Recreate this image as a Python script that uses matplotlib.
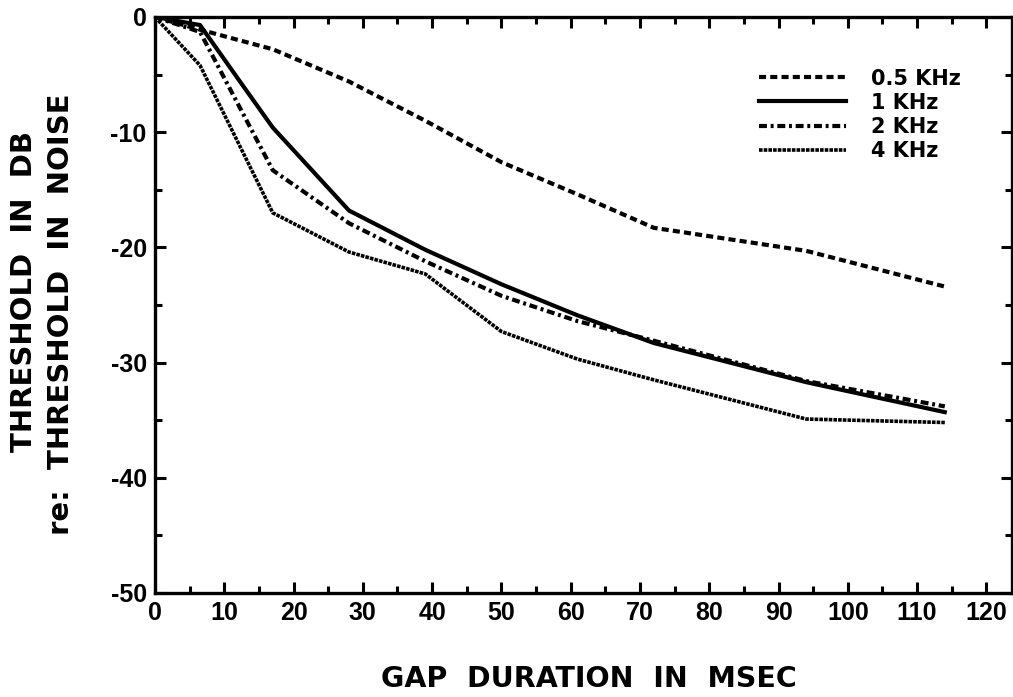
import matplotlib
matplotlib.use("Agg")
import matplotlib.pyplot as plt
from matplotlib.ticker import MultipleLocator

plt.rcParams["axes.unicode_minus"] = False

# gap durations (ms) and thresholds (dB re: threshold in noise)
gap_ms = [0, 6.5, 17, 28, 39, 50, 61, 72, 94, 114]
gap_ms_1k = [0, 6.5, 12.5, 17, 28, 39, 50, 61, 72, 94, 114]

thr_500 = [0, -1.1, -2.8, -5.6, -9.0, -12.6, -15.4, -18.3, -20.3, -23.4]
thr_1k = [0, -0.7, -5.8, -9.6, -16.8, -20.2, -23.2, -25.9, -28.3, -31.7, -34.3]
thr_2k = [0, -1.3, -13.3, -17.9, -21.2, -24.2, -26.4, -28.1, -31.6, -33.8]
thr_4k = [0, -4.2, -17.0, -20.4, -22.3, -27.3, -29.7, -31.5, -34.9, -35.2]

labels = ["0.5 KHz", "1 KHz", "2 KHz", "4 KHz"]

W, H = 1013, 697
fig = plt.figure(figsize=(W / 100, H / 100), dpi=100)
ax = fig.add_axes([155 / W, 1 - 593 / H, (1012 - 155) / W, (593 - 17) / H])

ax.plot(gap_ms, thr_500, color="black", lw=3.0, linestyle=(0, (1.7, 1.0)), label=labels[0])
ax.plot(gap_ms_1k, thr_1k, color="black", lw=3.0, linestyle="-", label=labels[1])
ax.plot(gap_ms, thr_2k, color="black", lw=3.0, linestyle=(0, (1.9, 0.9, 0.7, 0.9)), label=labels[2])
ax.plot(gap_ms, thr_4k, color="black", lw=2.6, linestyle=(0, (1.0, 0.3)), label=labels[3])

ax.set_xlim(0, 123.7)
ax.set_ylim(-50, 0)

ax.xaxis.set_major_locator(MultipleLocator(10))
ax.xaxis.set_minor_locator(MultipleLocator(5))
ax.yaxis.set_major_locator(MultipleLocator(10))
ax.yaxis.set_minor_locator(MultipleLocator(5))

for s in ax.spines.values():
    s.set_linewidth(2.4)

ax.tick_params(which="major", direction="in", length=8, width=2.2,
               top=True, right=True, pad=6)
ax.tick_params(which="minor", direction="in", length=5, width=2.2,
               top=True, right=True)

tick_font = matplotlib.font_manager.FontProperties(family="Liberation Sans", weight="bold", size=18)
for lab in ax.get_xticklabels() + ax.get_yticklabels():
    lab.set_fontproperties(tick_font)

leg = ax.legend(loc="upper left", bbox_to_anchor=(0.695, 0.925), frameon=False,
                handlelength=4.2, handletextpad=1.2, labelspacing=0.2,
                borderaxespad=0, prop=dict(family="DejaVu Sans", weight="bold", size=15))

# two-line y label, each line placed on its own
ylab = dict(rotation=90, ha="center", va="center", family="DejaVu Sans",
            weight="bold", size=21)
fig.text(24 / W, 1 - 292 / H, "THRESHOLD  IN  DB", **ylab)
fig.text(61 / W, 1 - 314 / H, "re:  THRESHOLD  IN  NOISE", **ylab)

fig.text(589 / W, 1 - 679 / H, "GAP  DURATION  IN  MSEC", ha="center", va="center",
         family="DejaVu Sans", weight="bold", size=20.5)

fig.savefig("out.png", dpi=100)
